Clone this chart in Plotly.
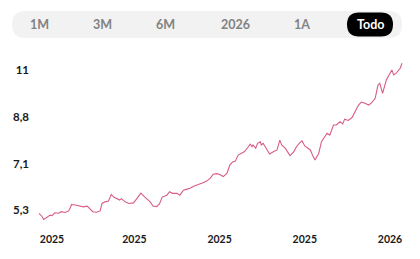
import pandas as pd
import plotly.graph_objects as go

# ---------------- data ----------------
base_date = "2025-02-01"
day_offsets = [-14, -11, -9, -6, -2, 0, 3, 7, 10, 14, 18, 20, 21, 25, 28, 34, 38, 41, 44, 48,
               52, 54, 57, 61, 64, 67, 70, 73, 75, 79, 83, 88, 92, 96, 100, 106, 109, 113, 116, 119,
               124, 127, 130, 135, 138, 142, 145, 149, 153, 160, 163, 167, 171, 174, 178, 181, 185, 189, 192, 195,
               198, 201, 205, 208, 212, 214, 216, 217, 220, 222, 225, 226, 228, 230, 234, 235, 239, 243, 246, 248,
               252, 254, 257, 261, 264, 267, 270, 273, 279, 282, 284, 288, 291, 297, 300, 304, 307, 311, 314, 316,
               320, 324, 327, 331, 334, 338, 342, 345, 349, 352, 354, 357, 361, 363, 367, 369, 372, 376, 378]
values = [5.18, 5.07, 4.95, 5.01, 5.11, 5.09, 5.20, 5.18, 5.24, 5.21, 5.27, 5.41, 5.51, 5.49, 5.46, 5.42, 5.45, 5.36, 5.24, 5.22,
          5.27, 5.55, 5.61, 5.64, 5.89, 5.78, 5.74, 5.68, 5.73, 5.61, 5.55, 5.57, 5.75, 5.94, 5.80, 5.61, 5.45, 5.43, 5.53, 5.79,
          5.86, 5.99, 5.93, 5.93, 5.86, 6.05, 6.08, 6.12, 6.20, 6.28, 6.33, 6.39, 6.50, 6.65, 6.67, 6.64, 6.56, 6.69, 6.99, 7.11,
          7.14, 7.37, 7.45, 7.50, 7.68, 7.78, 7.68, 7.75, 7.63, 7.81, 7.87, 7.75, 7.81, 7.68, 7.43, 7.41, 7.49, 7.56, 7.93, 7.75,
          7.62, 7.49, 7.35, 7.49, 7.68, 7.81, 7.90, 7.71, 7.56, 7.31, 7.18, 7.43, 7.87, 8.19, 8.12, 8.50, 8.50, 8.62, 8.54, 8.72,
          8.67, 8.78, 8.99, 9.25, 9.36, 9.32, 9.25, 9.33, 9.50, 10.00, 10.07, 9.69, 10.19, 10.32, 10.57, 10.38, 10.46, 10.63, 10.82]

x_tick_offsets = [0, 89, 181, 273, 365]
x_tick_labels = ["2025", "2025", "2025", "2025", "2026"]
y_tick_values = [5.3, 7.05, 8.8, 10.55]
y_tick_labels = ["5,3", "7,1", "8,8", "11"]
range_buttons = ["1M", "3M", "6M", "2026", "1A", "Todo"]
active_button = "Todo"

# ---------------- build ----------------
base = pd.Timestamp(base_date)
dates = base + pd.to_timedelta(day_offsets, unit="D")
tick_dates = base + pd.to_timedelta(x_tick_offsets, unit="D")
x_range = [base - pd.Timedelta(days=17.3), base + pd.Timedelta(days=381.2)]

W, H = 420, 259
ML, MR, MT, MB = 36, 15, 55, 34
PW, PH = W - ML - MR, H - MT - MB

LINE = "#d85c86"
FONT = "Lato"

fig = go.Figure()
fig.add_trace(go.Scatter(x=dates, y=values, mode="lines",
                         line=dict(color=LINE, width=1.1), hoverinfo="skip"))


def px_x(px):
    return (px - ML) / PW


def px_y(py):
    return (H - MB - py) / PH


def rounded_rect(x0, y0, x1, y1, r):
    return (f"M {x0 + r},{y0} L {x1 - r},{y0} Q {x1},{y0} {x1},{y0 + r} "
            f"L {x1},{y1 - r} Q {x1},{y1} {x1 - r},{y1} L {x0 + r},{y1} "
            f"Q {x0},{y1} {x0},{y1 - r} L {x0},{y0 + r} Q {x0},{y0} {x0 + r},{y0} Z")


def pill(px0, py0, px1, py1, color):
    x0, x1 = px0 - ML, px1 - ML
    y0, y1 = MT - py1, MT - py0
    r = (y1 - y0) / 2
    return dict(type="path", xref="paper", yref="paper", xsizemode="pixel", ysizemode="pixel",
                xanchor=0, yanchor=1, path=rounded_rect(x0, y0, x1, y1, r),
                fillcolor=color, line=dict(width=0), layer="below")


shapes = [pill(12, 11, 402, 38, "#f2f2f2"), pill(347, 12.5, 393, 36.5, "#000000")]

button_px = [39, 102, 165, 235, 302, 370]
annotations = []
for label, bx in zip(range_buttons, button_px):
    active = label == active_button
    annotations.append(dict(x=px_x(bx), y=px_y(24.5), xref="paper", yref="paper",
                            text=label, showarrow=False, xanchor="center", yanchor="middle",
                            font=dict(family=FONT, size=12.5, weight=700,
                                      color="#ffffff" if active else "#828282")))

fig.update_layout(
    width=W, height=H,
    margin=dict(l=ML, r=MR, t=MT, b=MB),
    paper_bgcolor="white", plot_bgcolor="white",
    showlegend=False,
    shapes=shapes, annotations=annotations,
    xaxis=dict(range=x_range, tickvals=tick_dates, ticktext=x_tick_labels,
               showgrid=False, zeroline=False, showline=False, ticks="",
               ticklabelstandoff=6,
               tickfont=dict(family=FONT, size=10.5, weight=700, color="#1a1a1a")),
    yaxis=dict(range=[4.74, 11.13], tickvals=y_tick_values, ticktext=y_tick_labels,
               showgrid=False, zeroline=False, showline=False, ticks="",
               ticklabelstandoff=6,
               tickfont=dict(family=FONT, size=11.5, weight=700, color="#1a1a1a")),
)

fig.write_html("out.html")
